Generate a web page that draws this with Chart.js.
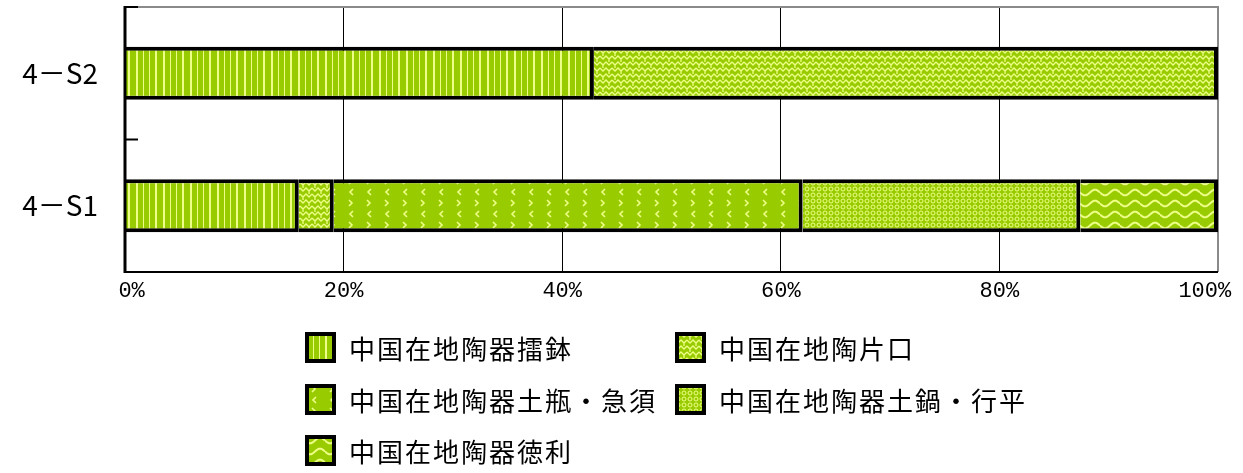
<!DOCTYPE html>
<html>
<head>
<meta charset="utf-8">
<script src="https://cdn.jsdelivr.net/npm/chart.js@4"></script>
<style>
html,body{margin:0;padding:0;background:#fff;}
#wrap{position:relative;width:1243px;height:473px;overflow:hidden;}
#c{position:absolute;left:0;top:0;}
#legend{position:absolute;left:305px;top:332px;width:900px;}
.item{position:absolute;display:flex;align-items:center;height:31px;white-space:nowrap;
  font-family:"Noto Sans CJK JP","Noto Sans CJK SC",sans-serif;font-size:26px;letter-spacing:2px;color:#000;}
.item canvas{display:block;margin-right:13px;}
</style>
</head>
<body>
<div id="wrap">
<canvas id="c" width="1243" height="473"></canvas>
<div id="legend"></div>
</div>
<script>
// ---- data ----
const categories = ['4－S2', '4－S1'];
const seriesNames = ['中国在地陶器擂鉢', '中国在地陶片口', '中国在地陶器土瓶・急須', '中国在地陶器土鍋・行平', '中国在地陶器徳利'];
const suribachi = [42.9, 15.9];
const katakuchi = [57.1, 3.2];
const dobinKyusu = [null, 42.9];
const donabeYukihira = [null, 25.4];
const tokkuri = [null, 12.6];
const tickLabels = ['0%', '20%', '40%', '60%', '80%', '100%'];

// ---- patterns ----
const BASE = '#99cc00';
const LINE = '#eeff88';
const mainCtx = document.getElementById('c').getContext('2d');

function makeTile(w, h, draw) {
  const t = document.createElement('canvas');
  t.width = w; t.height = h;
  const g = t.getContext('2d');
  g.fillStyle = BASE; g.fillRect(0, 0, w, h);
  g.strokeStyle = LINE; g.fillStyle = LINE;
  draw(g, w, h);
  return mainCtx.createPattern(t, 'repeat');
}

const patterns = [
  // vertical stripes
  makeTile(27, 4, (g) => {
    [[1,2],[8,1],[14,1],[20,2]].forEach(([x,w]) => g.fillRect(x, 0, w, 4));
  }),
  // woven zigzag
  makeTile(12, 12, (g) => {
    g.lineWidth = 1.3;
    g.beginPath();
    g.moveTo(0, 2); g.lineTo(3, 5); g.lineTo(6, 2); g.lineTo(9, 5); g.lineTo(12, 2);
    g.moveTo(0, 8); g.lineTo(3, 11); g.lineTo(6, 8); g.lineTo(9, 11); g.lineTo(12, 8);
    g.moveTo(3, 5); g.lineTo(3, 8);
    g.moveTo(9, 11); g.lineTo(9, 12); g.moveTo(9, 0); g.lineTo(9, 2);
    g.stroke();
  }),
  // sparse chevrons
  makeTile(18, 22, (g) => {
    g.lineWidth = 1.6;
    g.beginPath();
    g.moveTo(7, 2); g.lineTo(10, 5); g.lineTo(7, 8);
    g.moveTo(11, 13); g.lineTo(8, 16); g.lineTo(11, 19);
    g.stroke();
  }),
  // dense small circles
  makeTile(6, 6, (g) => {
    g.lineWidth = 1;
    g.beginPath(); g.arc(3, 3, 2, 0, Math.PI * 2); g.stroke();
  }),
  // horizontal waves
  makeTile(20, 11, (g) => {
    g.lineWidth = 2;
    g.beginPath();
    for (let x = 0; x <= 20; x += 0.5) {
      const y = 5.5 + 2.8 * Math.sin(2 * Math.PI * x / 20);
      if (x === 0) g.moveTo(x, y); else g.lineTo(x, y);
    }
    g.stroke();
  })
];

const seriesData = [suribachi, katakuchi, dobinKyusu, donabeYukihira, tokkuri];

const framePlugin = {
  id: 'frame',
  beforeDatasetsDraw(chart) {
    const { ctx, chartArea: a } = chart;
    ctx.save();
    ctx.strokeStyle = '#8a8a8a';
    ctx.lineWidth = 2;
    ctx.beginPath();
    ctx.moveTo(a.left, a.top); ctx.lineTo(a.right, a.top); ctx.lineTo(a.right, a.bottom);
    ctx.stroke();
    ctx.restore();
  },
  afterDatasetsDraw(chart) {
    const { ctx, chartArea: a } = chart;
    const ys = chart.scales.y;
    ctx.save();
    ctx.strokeStyle = '#000';
    ctx.lineWidth = 3;
    ctx.beginPath(); ctx.moveTo(a.left, a.top - 1); ctx.lineTo(a.left, a.bottom + 1); ctx.stroke();
    ctx.lineWidth = 2;
    ctx.beginPath(); ctx.moveTo(a.left, a.bottom); ctx.lineTo(a.right, a.bottom); ctx.stroke();
    // inner tick marks at category boundaries
    const bounds = [a.top];
    for (let i = 0; i < categories.length - 1; i++) {
      bounds.push((ys.getPixelForValue(i) + ys.getPixelForValue(i + 1)) / 2);
    }
    ctx.lineWidth = 2;
    bounds.forEach(b => { ctx.beginPath(); ctx.moveTo(a.left, b); ctx.lineTo(a.left + 13, b); ctx.stroke(); });
    ctx.restore();
  }
};

new Chart(mainCtx, {
  type: 'bar',
  data: {
    labels: categories,
    datasets: seriesNames.map((name, i) => ({
      label: name,
      data: seriesData[i],
      backgroundColor: patterns[i],
      borderColor: '#000',
      borderWidth: 4,
      borderSkipped: 'start',
      categoryPercentage: 0.4,
      barPercentage: 1.0
    }))
  },
  options: {
    indexAxis: 'y',
    responsive: false,
    animation: false,
    events: [],
    layout: { padding: { top: 7, right: 25, left: 0, bottom: 0 } },
    plugins: { legend: { display: false }, tooltip: { enabled: false }, title: { display: false } },
    scales: {
      x: {
        stacked: true,
        min: 0, max: 100,
        border: { display: false },
        grid: {
          drawTicks: false,
          lineWidth: 1,
          color: (c) => (c.tick && (c.tick.value === 0 || c.tick.value === 100)) ? 'rgba(0,0,0,0)' : '#000'
        },
        ticks: {
          stepSize: 20,
          padding: 6,
          color: '#000',
          maxRotation: 0,
          font: { family: 'Liberation Mono', size: 22 },
          callback: (v, i) => i === 0 ? ' ' + tickLabels[i] : (i === tickLabels.length - 1 ? tickLabels[i] + '  ' : tickLabels[i])
        },
        afterFit: (s) => { s.height = 473 - 272; s.paddingLeft = 0; s.paddingRight = 0; }
      },
      y: {
        stacked: true,
        border: { display: false },
        grid: { display: false, drawTicks: false },
        ticks: {
          padding: 27,
          color: '#000',
          font: { family: 'Noto Sans CJK JP', size: 28 }
        },
        afterFit: (s) => { s.width = 125; s.paddingTop = 0; s.paddingBottom = 0; }
      }
    }
  },
  plugins: [framePlugin]
});

// ---- HTML legend ----
const legend = document.getElementById('legend');
seriesNames.forEach((name, i) => {
  const col = i % 2, row = Math.floor(i / 2);
  const item = document.createElement('div');
  item.className = 'item';
  item.style.left = (col * 370) + 'px';
  item.style.top = (row * 51.5) + 'px';
  const sw = document.createElement('canvas');
  sw.width = 31; sw.height = 31;
  const g = sw.getContext('2d');
  g.fillStyle = patterns[i]; g.fillRect(0, 0, 31, 31);
  g.strokeStyle = '#000'; g.lineWidth = 4; g.strokeRect(2, 2, 27, 27);
  item.appendChild(sw);
  const span = document.createElement('span');
  span.textContent = name;
  item.appendChild(span);
  legend.appendChild(item);
});
</script>
</body>
</html>
